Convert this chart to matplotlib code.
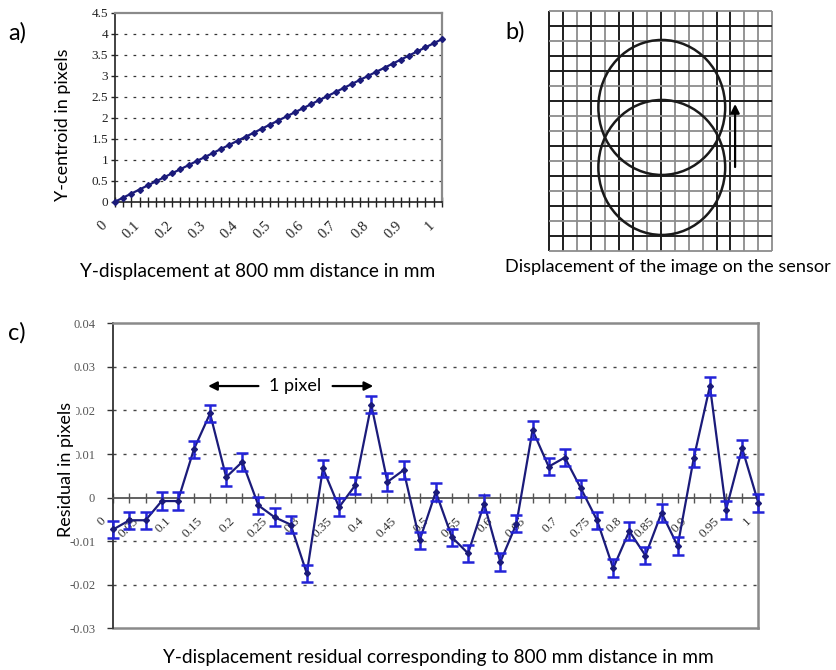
import matplotlib
matplotlib.use("Agg")
import matplotlib.pyplot as plt
from matplotlib.patches import Ellipse
from matplotlib.transforms import ScaledTranslation

# ---------------- data ----------------
displacement_mm = [0.000, 0.025, 0.050, 0.075, 0.100, 0.125, 0.150, 0.175, 0.200, 0.225,
                   0.250, 0.275, 0.300, 0.325, 0.350, 0.375, 0.400, 0.425, 0.450, 0.475,
                   0.500, 0.525, 0.550, 0.575, 0.600, 0.625, 0.650, 0.675, 0.700, 0.725,
                   0.750, 0.775, 0.800, 0.825, 0.850, 0.875, 0.900, 0.925, 0.950, 0.975, 1.000]

y_centroid_px = [0.000, 0.097, 0.193, 0.290, 0.387, 0.483, 0.580, 0.677, 0.773, 0.870,
                 0.967, 1.063, 1.160, 1.257, 1.353, 1.450, 1.547, 1.643, 1.740, 1.837,
                 1.933, 2.030, 2.127, 2.223, 2.320, 2.417, 2.513, 2.610, 2.707, 2.803,
                 2.900, 2.997, 3.093, 3.190, 3.287, 3.383, 3.480, 3.577, 3.673, 3.770, 3.867]

residual_px = [-0.0073, -0.0052, -0.0052, -0.0008, -0.0008, 0.0111, 0.0193, 0.0047, 0.0082, -0.0018,
               -0.0045, -0.0062, -0.0174, 0.0067, -0.0022, 0.0028, 0.0213, 0.0036, 0.0063, -0.0098,
               0.0013, -0.0091, -0.0128, -0.0014, -0.0148, -0.0060, 0.0155, 0.0071, 0.0092, 0.0021,
               -0.0052, -0.0162, -0.0077, -0.0133, -0.0035, -0.0111, 0.0091, 0.0256, -0.0028, 0.0113, -0.0012]
residual_err = 0.002

a_xticks = [0.0, 0.1, 0.2, 0.3, 0.4, 0.5, 0.6, 0.7, 0.8, 0.9, 1.0]
a_xticklabels = ["0", "0.1", "0.2", "0.3", "0.4", "0.5", "0.6", "0.7", "0.8", "0.9", "1"]
a_yticks = [0, 0.5, 1, 1.5, 2, 2.5, 3, 3.5, 4, 4.5]
a_yticklabels = ["0", "0.5", "1", "1.5", "2", "2.5", "3", "3.5", "4", "4.5"]

c_xticks = [0.0, 0.05, 0.1, 0.15, 0.2, 0.25, 0.3, 0.35, 0.4, 0.45, 0.5,
            0.55, 0.6, 0.65, 0.7, 0.75, 0.8, 0.85, 0.9, 0.95, 1.0]
c_xticklabels = ["0", "0.05", "0.1", "0.15", "0.2", "0.25", "0.3", "0.35", "0.4", "0.45", "0.5",
                 "0.55", "0.6", "0.65", "0.7", "0.75", "0.8", "0.85", "0.9", "0.95", "1"]
c_yticks = [-0.03, -0.02, -0.01, 0, 0.01, 0.02, 0.03, 0.04]
c_yticklabels = ["-0.03", "-0.02", "-0.01", "0", "0.01", "0.02", "0.03", "0.04"]

# ---------------- styling ----------------
W, H = 837, 670
LABEL_FONT = ["Lato", "DejaVu Sans"]
TICK_FONT = ["Liberation Serif", "DejaVu Serif"]
NAVY = "#1b1b7a"
BLUE = "#2323d8"
GRID_DASH = (0, (2.2, 5.0))

fig = plt.figure(figsize=(W / 100, H / 100), dpi=100)


def rect(l, t, r, b):
    return [l / W, 1 - b / H, (r - l) / W, (b - t) / H]


def shift_labels(labels, dx_px, dy_px):
    for lab in labels:
        lab.set_transform(lab.get_transform() + ScaledTranslation(dx_px / 100, dy_px / 100, fig.dpi_scale_trans))


# ---------------- panel a ----------------
ax = fig.add_axes(rect(115, 12.7, 441.7, 201.7))
ax.plot(displacement_mm, y_centroid_px, color=NAVY, lw=1.6, marker="D", ms=3.0,
        mfc=NAVY, mec=NAVY, zorder=3, clip_on=False)
ax.set_xlim(0, 1)
ax.set_ylim(0, 4.5)
ax.set_yticks(a_yticks)
ax.set_yticklabels(a_yticklabels, fontfamily=TICK_FONT, fontsize=9.5, color="#222222")
ax.set_xticks(a_xticks)
ax.set_xticklabels(a_xticklabels, fontfamily=TICK_FONT, fontsize=10.5, color="#222222",
                   rotation=45, ha="right", va="top", rotation_mode="anchor")
ax.set_xticks(displacement_mm, minor=True)
ax.tick_params(axis="x", which="both", direction="inout", length=7, width=1.0, color="#222222", pad=9)
ax.tick_params(axis="y", direction="out", length=3, width=1.0, color="#222222", pad=2)
shift_labels(ax.get_xticklabels(), -14, 0)
for v in a_yticks[1:-1]:
    ax.axhline(v, color="#333333", lw=0.9, ls=GRID_DASH, zorder=1)
for s in ["top", "right"]:
    ax.spines[s].set_color("#8a8a8a")
    ax.spines[s].set_linewidth(1.6)
ax.spines["left"].set_color("#222222")
ax.spines["bottom"].set_color("#222222")
ax.spines["left"].set_linewidth(1.2)
ax.spines["bottom"].set_linewidth(1.2)

fig.text(8 / W, 1 - 33 / H, "a)", fontfamily=LABEL_FONT, fontsize=17, ha="left", va="center")
fig.text(63 / W, 1 - 125 / H, "Y-centroid in pixels", fontfamily=LABEL_FONT, fontsize=13,
         rotation=90, ha="center", va="center")
fig.text(258 / W, 1 - 272 / H, "Y-displacement at 800 mm distance in mm", fontfamily=LABEL_FONT,
         fontsize=13.7, ha="center", va="center")

# ---------------- panel b ----------------
axb = fig.add_axes(rect(549.3, 11, 772.3, 251))
axb.set_xlim(0, 16)
axb.set_ylim(16, 0)
axb.axis("off")
v_dark = [1, 1, 0, 1, 0, 1, 1, 0, 1, 0, 0, 0, 1, 1, 0, 0, 0]
h_dark = [0, 1, 0, 1, 1, 0, 1, 0, 0, 1, 0, 1, 0, 1, 0, 1, 0]
for i, d in enumerate(v_dark):
    axb.plot([i, i], [0, 16], color="#1e1e1e" if d else "#8c8c8c", lw=1.4 if d else 1.3,
             clip_on=False, solid_capstyle="butt")
for j, d in enumerate(h_dark):
    axb.plot([0, 16], [j, j], color="#1e1e1e" if d else "#8c8c8c", lw=1.4 if d else 1.3,
             clip_on=False, solid_capstyle="butt")
for cy in (6.43, 10.43):
    axb.add_patch(Ellipse((8.07, cy), 9.1, 9.0, fill=False, ec="#1a1a1a", lw=1.8, zorder=5))
axb.annotate("", xy=(13.33, 6.2), xytext=(13.33, 10.4),
             arrowprops=dict(arrowstyle="-|>", color="black", lw=1.6, mutation_scale=13,
                             shrinkA=0, shrinkB=0), zorder=6)
fig.text(505 / W, 1 - 32 / H, "b)", fontfamily=LABEL_FONT, fontsize=17, ha="left", va="center")
fig.text(668 / W, 1 - 267 / H, "Displacement of the image on the sensor", fontfamily=LABEL_FONT,
         fontsize=13.1, ha="center", va="center")

# ---------------- panel c ----------------
axc = fig.add_axes(rect(113.3, 323.3, 758.3, 628.3))
axc.spines["bottom"].set_position(("data", 0))
axc.plot(displacement_mm, residual_px, color=NAVY, lw=1.6, zorder=3, clip_on=False)
axc.errorbar(displacement_mm, residual_px, yerr=residual_err, fmt="none", ecolor=BLUE,
             elinewidth=1.8, capsize=4, capthick=1.8, zorder=4, clip_on=False)
axc.plot(displacement_mm, residual_px, ls="none", marker="D", ms=3, mfc=NAVY, mec=NAVY,
         zorder=5, clip_on=False)
axc.set_xlim(0, 1)
axc.set_ylim(-0.03, 0.04)
axc.set_yticks(c_yticks)
axc.set_yticklabels(c_yticklabels, fontfamily=TICK_FONT, fontsize=9, color="#555555")
axc.set_xticks(c_xticks)
axc.set_xticklabels(c_xticklabels, fontfamily=TICK_FONT, fontsize=9.5, color="#333333",
                    rotation=45, ha="right", va="top", rotation_mode="anchor")
axc.set_xticks(displacement_mm, minor=True)
axc.spines["bottom"].set_color("#555555")
axc.spines["bottom"].set_linewidth(1.3)
axc.spines["left"].set_color("#333333")
axc.spines["left"].set_linewidth(1.3)
for s in ["top", "right"]:
    axc.spines[s].set_color("#8a8a8a")
    axc.spines[s].set_linewidth(1.8)
axc.plot([0, 1], [0, 0], transform=axc.transAxes, color="#8a8a8a", lw=1.8, clip_on=False, zorder=2)
axc.tick_params(axis="x", which="both", direction="inout", length=7, width=1.0, color="#555555", pad=9)
axc.tick_params(axis="y", direction="out", length=4, width=1.0, color="#333333", pad=9)
shift_labels(axc.get_xticklabels(), -13, 0)
for v in [-0.02, -0.01, 0.01, 0.02, 0.03]:
    axc.axhline(v, color="#444444", lw=1.0, ls=GRID_DASH, zorder=1)

# "1 pixel" annotation between the two peaks
axc.annotate("", xy=(0.147, 0.0256), xytext=(0.225, 0.0256),
             arrowprops=dict(arrowstyle="-|>", color="black", lw=1.6, mutation_scale=13,
                             shrinkA=0, shrinkB=0))
axc.annotate("", xy=(0.403, 0.0256), xytext=(0.340, 0.0256),
             arrowprops=dict(arrowstyle="-|>", color="black", lw=1.6, mutation_scale=13,
                             shrinkA=0, shrinkB=0))
axc.text(0.2815, 0.0256, "1 pixel", fontfamily=LABEL_FONT, fontsize=13, ha="center", va="center")

fig.text(8 / W, 1 - 333 / H, "c)", fontfamily=LABEL_FONT, fontsize=17, ha="left", va="center")
fig.text(66 / W, 1 - 469 / H, "Residual in pixels", fontfamily=LABEL_FONT, fontsize=13,
         rotation=90, ha="center", va="center",
         bbox=dict(facecolor="white", edgecolor="none", pad=1.5))
fig.text(438 / W, 1 - 657 / H, "Y-displacement residual corresponding to 800 mm distance in mm",
         fontfamily=LABEL_FONT, fontsize=13.7, ha="center", va="center")

fig.savefig("out.png", dpi=100)
